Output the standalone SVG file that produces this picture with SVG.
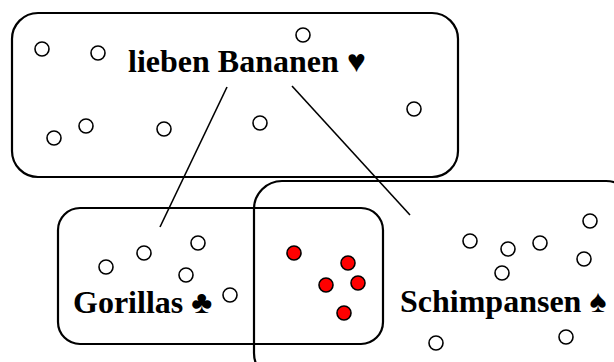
<svg xmlns="http://www.w3.org/2000/svg" width="614" height="362" viewBox="0 0 614 362">
<style>
.box{fill:none;stroke:#000;stroke-width:2.2}
.o{fill:#fff;stroke:#000;stroke-width:1.6}
.r{fill:#f00;stroke:#000;stroke-width:1.6}
.lbl{font-family:"Liberation Serif","Times New Roman",serif;font-weight:bold;fill:#000;font-size:32px}
.ln{stroke:#000;stroke-width:1.6;fill:none}
</style>
<rect width="614" height="362" fill="#fff"/>
<g id="top">
<rect class="box" x="12" y="13" width="446" height="164" rx="26"/>
<circle class="o" cx="42" cy="49" r="7"/>
<circle class="o" cx="98" cy="53" r="7"/>
<circle class="o" cx="303" cy="35" r="7"/>
<circle class="o" cx="54" cy="138" r="7"/>
<circle class="o" cx="86" cy="126" r="7"/>
<circle class="o" cx="164" cy="129" r="7"/>
<circle class="o" cx="260" cy="123" r="7"/>
<circle class="o" cx="414" cy="109" r="7"/>
<text class="lbl" x="128" y="72">lieben Bananen ♥</text>
</g>
<g id="gorillas">
<rect class="box" x="58" y="208" width="325" height="136" rx="22"/>
<circle class="o" cx="106" cy="267" r="7"/>
<circle class="o" cx="144" cy="253" r="7"/>
<circle class="o" cx="198" cy="243" r="7"/>
<circle class="o" cx="186" cy="275" r="7"/>
<circle class="o" cx="230" cy="295" r="7"/>
<text class="lbl" x="73" y="313">Gorillas ♣</text>
</g>
<g id="schimpansen">
<rect class="box" x="254" y="181" width="380" height="200" rx="28"/>
<circle class="o" cx="470" cy="241" r="7"/>
<circle class="o" cx="508" cy="249" r="7"/>
<circle class="o" cx="540" cy="243" r="7"/>
<circle class="o" cx="590" cy="221" r="7"/>
<circle class="o" cx="584" cy="259" r="7"/>
<circle class="o" cx="502" cy="273" r="7"/>
<circle class="o" cx="436" cy="343" r="7"/>
<circle class="o" cx="566" cy="337" r="7"/>
<text class="lbl" x="400" y="312">Schimpansen ♠</text>
</g>
<g id="both">
<circle class="r" cx="294" cy="253" r="7"/>
<circle class="r" cx="348" cy="263" r="7"/>
<circle class="r" cx="326" cy="285" r="7"/>
<circle class="r" cx="358" cy="283" r="7"/>
<circle class="r" cx="344" cy="313" r="7"/>
</g>
<g id="connectors">
<line class="ln" x1="227" y1="87" x2="160" y2="227"/>
<line class="ln" x1="292" y1="86" x2="410" y2="215"/>
</g>
</svg>
